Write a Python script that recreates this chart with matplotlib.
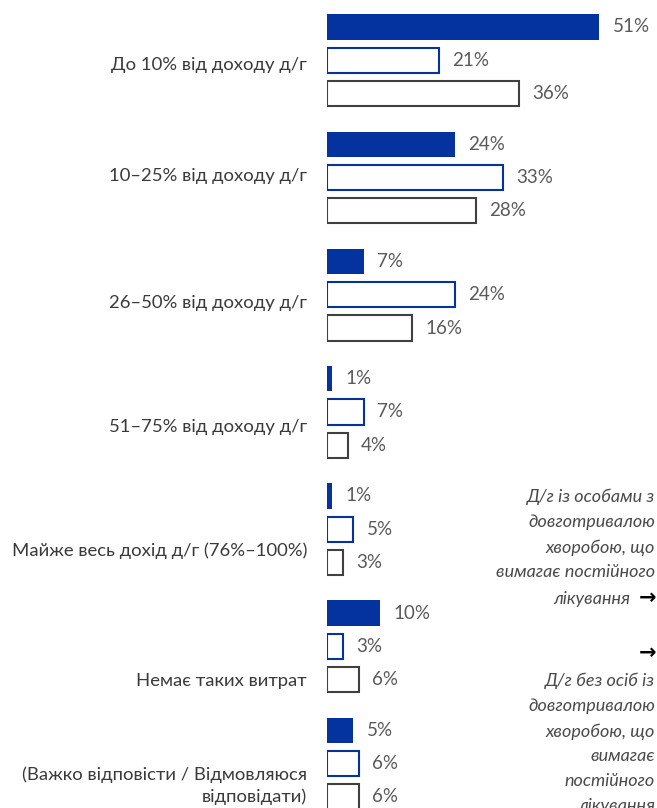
import numpy as np
import matplotlib
matplotlib.use("Agg")
import matplotlib.pyplot as plt

# Data (shares, %)
categories = [
    "До 10% від доходу д/г",
    "10–25% від доходу д/г",
    "26–50% від доходу д/г",
    "51–75% від доходу д/г",
    "Майже весь дохід д/г (76%–100%)",
    "Немає таких витрат",
    "(Важко відповісти / Відмовляюся\nвідповідати)",
]
with_chronic = [51, 24, 7, 1, 1, 10, 5]
without_chronic = [21, 33, 24, 7, 5, 3, 6]
total = [36, 28, 16, 4, 3, 6, 6]

note_top = "Д/г із особами з\nдовготривалою\nхворобою, що\nвимагає постійного"
note_top_last = "лікування"
note_bottom = "Д/г без осіб із\nдовготривалою\nхворобою, що\nвимагає\nпостійного\nлікування"

# Layout
W, H = 657, 808
BLUE = "#0433a0"
GRAY_EDGE = "#404040"
LABEL_COLOR = "#3a3a3a"
VALUE_COLOR = "#5a5a5a"
NOTE_COLOR = "#4a4a4a"
FONT = "Lato"

group_step = 3.52
bar_h = 0.76
label_shift = [0.15, -0.05, 0.24, 0.45, 0.66, 1.05, 0.66]

fig = plt.figure(figsize=(W / 100, H / 100), dpi=100)
ax_left = 326.5
ax = fig.add_axes([ax_left / W, 0, (W - ax_left) / W, 1])
ax.set_xlim(0, (W - ax_left) / 5.35)
ax.set_ylim((H - 27) / 33.3, -27 / 33.3)
ax.axis("off")

g = np.arange(len(categories)) * group_step
series = [
    (with_chronic, dict(color=BLUE, edgecolor=BLUE, linewidth=0)),
    (without_chronic, dict(color="white", edgecolor=BLUE, linewidth=1.5)),
    (total, dict(color="white", edgecolor=GRAY_EDGE, linewidth=1.5)),
]
for j, (vals, style) in enumerate(series):
    ax.barh(g + j, vals, height=bar_h, **style)
    for y, v in zip(g + j, vals):
        ax.annotate(f"{v}%", (v, y), xytext=(9.5, 0), textcoords="offset points",
                    ha="left", va="center", fontsize=13.5, color=VALUE_COLOR,
                    family=FONT, clip_on=False)

ytr = ax.get_yaxis_transform()
for y, lab, s in zip(g + 1, categories, label_shift):
    ax.text(-(ax_left - 307) / (W - ax_left), y + s, lab, transform=ytr,
            ha="right", va="center", fontsize=13.3, color=LABEL_COLOR,
            family=FONT, multialignment="right", linespacing=1.35)

# Side notes (italic, right aligned)
def note(text, x, y_top):
    fig.text(x / W, 1 - y_top / H, text, ha="right", va="top",
             fontsize=13, color=NOTE_COLOR, family=FONT, style="italic",
             linespacing=1.67, multialignment="right")

note(note_top, 655, 489)
note(note_top_last, 630, 591)
note(note_bottom, 655, 673)
for y_arrow in (598, 653):
    fig.text(656 / W, 1 - y_arrow / H, "→", ha="right", va="center",
             fontsize=15, weight="bold", color="black", family="DejaVu Sans")

fig.savefig("out.png", dpi=100)
